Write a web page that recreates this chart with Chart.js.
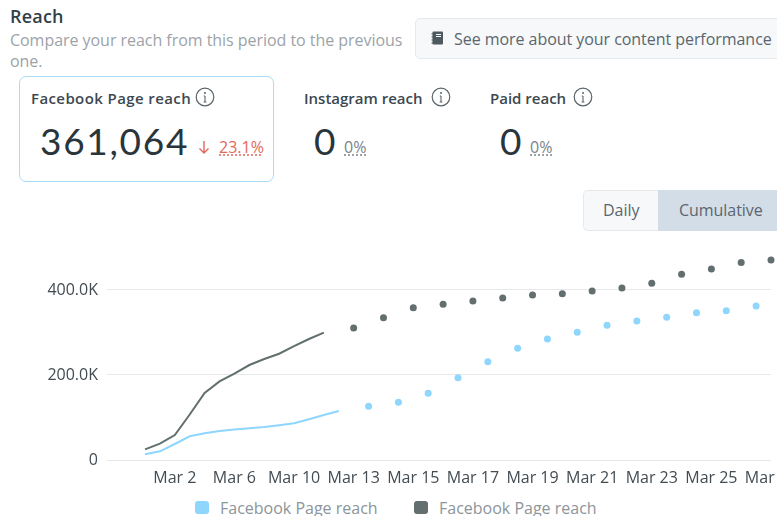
<!DOCTYPE html>
<html>
<head>
<meta charset="utf-8">
<script src="https://cdn.jsdelivr.net/npm/chart.js@4"></script>
<style>
html, body { margin: 0; padding: 0; background: #fff; }
body { position: relative; width: 777px; height: 516px; overflow: hidden; font-family: "Open Sans", sans-serif; }
.abs { position: absolute; white-space: nowrap; }
.title { left: 10px; top: 4px; font-size: 18px; font-weight: 600; color: #323f47; letter-spacing: 0.2px; }
.sub { left: 10px; top: 30px; width: 400px; font-size: 16px; line-height: 21px; color: #9ca3a8; white-space: normal; letter-spacing: -0.04px; }
.card { left: 19px; top: 76px; width: 253px; height: 104px; border: 1px solid #a9dcf6; border-radius: 7px; }
.name { font-size: 15px; font-weight: 600; color: #3c4850; top: 88px; }
.big { font-family: Lato, sans-serif; font-size: 37px; color: #2a343b; top: 118px; letter-spacing: 1.7px; }
.pct { font-size: 16px; top: 136px; text-decoration: underline dotted; text-underline-offset: 2px; }
.info { width: 20px; height: 20px; top: 87px; }
.link { left: 415px; top: 18px; width: 380px; height: 39px; background: #f6f8fa; border: 1px solid #e7eaed; border-radius: 5px; }
.linktext { left: 454px; top: 28px; font-size: 16px; color: #5b666e; letter-spacing: -0.05px; }
.daily { left: 583px; top: 190px; width: 74px; height: 39px; background: #f6f8fa; border: 1px solid #e7eaed; border-right: 0; border-radius: 5px 0 0 5px; }
.cumul { left: 658px; top: 190px; width: 130px; height: 41px; background: #d3dde8; }
.seg { top: 199px; font-size: 16px; color: #5b666e; letter-spacing: -0.05px; }
#wrap { position: absolute; left: 0; top: 256px; width: 790px; height: 234px; }
.key { position: absolute; top: 497px; font-size: 16px; color: #8c959b; white-space: nowrap; }
.key i { position: absolute; left: -25px; top: 4px; width: 14px; height: 13px; border-radius: 3px; }
</style>
</head>
<body>
<div class="abs title">Reach</div>
<div class="abs sub">Compare your reach from this period to the previous one.</div>

<div class="abs link"></div>
<svg class="abs" style="left:431px;top:31px" width="13" height="14" viewBox="0 0 13 14">
  <rect x="1.5" y="0.5" width="10.5" height="13" rx="1" fill="#4d585f"/>
  <path d="M0.5 3h2.5M0.5 6h2.5M0.5 9h2.5M0.5 12h2.5" stroke="#4d585f" stroke-width="1"/>
  <path d="M5 3.5h5M5 5.5h5" stroke="#f6f8fa" stroke-width="1"/>
</svg>
<div class="abs linktext">See more about your content performance</div>

<div class="abs card"></div>
<div class="abs name" style="left:31px;letter-spacing:0.4px">Facebook Page reach</div>
<svg class="abs info" style="left:195px" viewBox="0 0 20 20"><circle cx="10" cy="10" r="8.8" fill="none" stroke="#59646b" stroke-width="1.2"/><path d="M10 9v6M8.6 15h2.8M8.8 9h1.2" stroke="#59646b" stroke-width="1.1" fill="none"/><circle cx="10" cy="6" r="1" fill="#59646b"/></svg>
<div class="abs big" style="left:40px">361,064</div>
<svg class="abs" style="left:197px;top:140px" width="14" height="15" viewBox="0 0 14 15"><path d="M7 1v12M2.5 8.5L7 13l4.5-4.5" fill="none" stroke="#e2685c" stroke-width="1.4"/></svg>
<div class="abs pct" style="left:219px;color:#e2685c">23.1%</div>

<div class="abs name" style="left:304px">Instagram reach</div>
<svg class="abs info" style="left:431px" viewBox="0 0 20 20"><circle cx="10" cy="10" r="8.8" fill="none" stroke="#59646b" stroke-width="1.2"/><path d="M10 9v6M8.6 15h2.8M8.8 9h1.2" stroke="#59646b" stroke-width="1.1" fill="none"/><circle cx="10" cy="6" r="1" fill="#59646b"/></svg>
<div class="abs big" style="left:314px">0</div>
<div class="abs pct" style="left:344px;color:#7a848b">0%</div>

<div class="abs name" style="left:490px">Paid reach</div>
<svg class="abs info" style="left:573px" viewBox="0 0 20 20"><circle cx="10" cy="10" r="8.8" fill="none" stroke="#59646b" stroke-width="1.2"/><path d="M10 9v6M8.6 15h2.8M8.8 9h1.2" stroke="#59646b" stroke-width="1.1" fill="none"/><circle cx="10" cy="6" r="1" fill="#59646b"/></svg>
<div class="abs big" style="left:500px">0</div>
<div class="abs pct" style="left:530px;color:#7a848b">0%</div>

<div class="abs daily"></div>
<div class="abs cumul"></div>
<div class="abs seg" style="left:603px">Daily</div>
<div class="abs seg" style="left:679px">Cumulative</div>

<div id="wrap"><canvas id="reach"></canvas></div>

<script>
// one slot per half step on the axis, null = no value in that slot
const currentReach = [13300, 20400, 37600, 55700, 62700, 68200, 72000, 74500, 77600, 81600, 86300, 95700, 105900, 115300,
    null, 126300, null, 135700, null, 156900, null, 193700, null, 231400, null, 262700, null, 284700, null,
    300400, null, 316900, null, 327000, null, 335700, null, 346700, null, 351400, null, 362300, null]
const previousReach = [25100, 38400, 58800, 107000, 158000, 185000, 203000, 223500, 237600, 250000, 268000, 284700, 299600, null,
    310600, null, 334900, null, 358400, null, 366300, null, 374000, null, 381000, null, 388000, null,
    391000, null, 397600, null, 404700, null, 415700, null, 436900, null, 449400, null, 465000, null, 470600]
const tickSlots = [2, 6, 10, 14, 18, 22, 26, 30, 34, 38, 42]
const tickLabels = ['Mar 2', 'Mar 6', 'Mar 10', 'Mar 13', 'Mar 15', 'Mar 17', 'Mar 19', 'Mar 21', 'Mar 23', 'Mar 25', 'Mar 27']
const reachTicks = [0, 200000, 400000]
const seriesName = 'Facebook Page reach'
const legendLeft = [220, 439]

function toPoints(values) {
    return values.map((y, x) => ({x, y}))
}

// single values between gaps are shown as dots, the joined part has no markers
function dotRadius(context) {
    const data = context.dataset.data
    const i = context.dataIndex
    const alone = (!data[i - 1] || data[i - 1].y === null) && (!data[i + 1] || data[i + 1].y === null)
    return alone ? 3.5 : 0
}

function reachChart(element) {
    return new Chart(element, {
        type: 'line',
        data: {
            datasets: [
                {
                    label: seriesName,
                    data: toPoints(currentReach),
                    borderColor: '#8fd6ff',
                    backgroundColor: '#8fd6ff',
                    borderWidth: 2,
                    pointBorderWidth: 0,
                    pointRadius: dotRadius,
                    clip: false
                },
                {
                    label: seriesName,
                    data: toPoints(previousReach),
                    borderColor: '#636e6f',
                    backgroundColor: '#636e6f',
                    borderWidth: 2,
                    pointBorderWidth: 0,
                    pointRadius: dotRadius,
                    clip: false
                }
            ]
        },
        options: {
            responsive: true,
            maintainAspectRatio: false,
            animation: false,
            layout: {autoPadding: false, padding: {left: 0, right: 19, top: 0, bottom: 0}},
            plugins: {
                tooltip: {enabled: false},
                legend: {display: false}
            },
            scales: {
                x: {
                    type: 'linear',
                    min: -2.55,
                    max: 42,
                    afterBuildTicks: axis => { axis.ticks = tickSlots.map(value => ({value})) },
                    afterFit: axis => {
                        axis.height = 30
                        axis.paddingLeft = 0
                        axis.paddingRight = 0
                    },
                    grid: {display: false},
                    border: {display: false},
                    ticks: {
                        autoSkip: false,
                        maxRotation: 0,
                        padding: 1,
                        color: '#434c52',
                        font: {family: '"Open Sans"', size: 16},
                        callback: value => tickLabels[tickSlots.indexOf(value)]
                    }
                },
                y: {
                    min: 0,
                    max: 480000,
                    afterBuildTicks: axis => { axis.ticks = reachTicks.map(value => ({value})) },
                    afterFit: axis => {
                        axis.width = 107
                        axis.paddingTop = 0
                        axis.paddingBottom = 0
                    },
                    grid: {color: '#e7e8ea', lineWidth: 1, drawTicks: false},
                    border: {display: false},
                    ticks: {
                        padding: 9,
                        color: '#434c52',
                        font: {family: '"Open Sans"', size: 16},
                        callback: value => value === 0 ? '0' : `${(value / 1000).toFixed(1)}K`
                    }
                }
            }
        }
    })
}

// legend items sit further apart than the built-in legend can do without growing taller
function drawLegend(chart) {
    chart.data.datasets.forEach((dataset, i) => {
        const item = document.createElement('div')
        item.className = 'key'
        item.style.left = `${legendLeft[i]}px`
        item.textContent = dataset.label
        const swatch = document.createElement('i')
        swatch.style.background = dataset.backgroundColor
        item.appendChild(swatch)
        document.body.appendChild(item)
    })
}

drawLegend(reachChart(document.getElementById('reach')))
</script>
</body>
</html>
